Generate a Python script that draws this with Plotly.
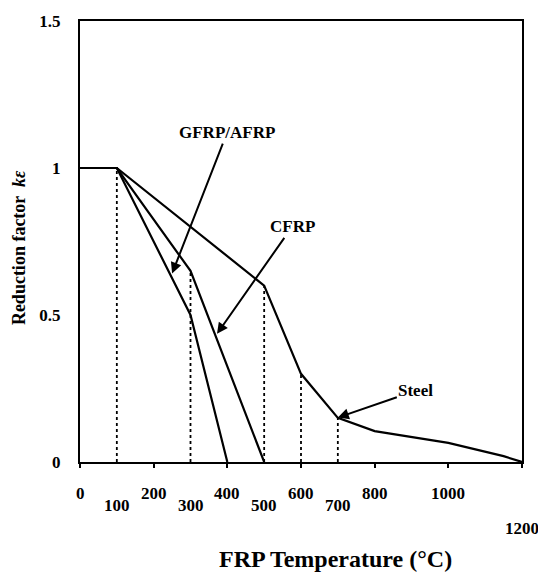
import plotly.graph_objects as go

# ---- data ----
steel_T = [0, 100, 500, 600, 700, 800, 1000, 1150, 1200]
steel_k = [1.0, 1.0, 0.60, 0.30, 0.15, 0.105, 0.065, 0.02, 0.0]

cfrp_T = [0, 100, 300, 500]
cfrp_k = [1.0, 1.0, 0.65, 0.0]

gfrp_T = [0, 100, 300, 400]
gfrp_k = [1.0, 1.0, 0.50, 0.0]

guide_T = [100, 300, 500, 600, 700]
guide_k = [1.0, 0.65, 0.60, 0.30, 0.15]

xtick_vals = [0, 100, 200, 300, 400, 500, 600, 700, 800, 1000, 1200]
xtick_text = ["0", "100", "200", "300", "400", "500", "600", "700", "800", "1000", "1200"]

# label annotations: (text, arrow tip T, arrow tip k)
labels = [("GFRP/AFRP", 250, 0.641), ("CFRP", 372, 0.436), ("Steel", 700, 0.151)]

FONT = "Liberation Serif"
fig = go.Figure()

line_style = dict(color="black", width=2.2)
for T, k in [(steel_T, steel_k), (cfrp_T, cfrp_k), (gfrp_T, gfrp_k)]:
    fig.add_trace(go.Scatter(x=T, y=k, mode="lines", line=line_style,
                             showlegend=False, hoverinfo="skip"))

gx, gy = [], []
for t, k in zip(guide_T, guide_k):
    gx += [t, t, None]
    gy += [0, k, None]
fig.add_trace(go.Scatter(x=gx, y=gy, mode="lines",
                         line=dict(color="black", width=1.8, dash="dot"),
                         showlegend=False, hoverinfo="skip"))

annotations = []
# x tick labels (staggered)
for v, t in zip(xtick_vals, xtick_text):
    if v == 1200:
        shift = -66
    elif v in (100, 300, 500, 700):
        shift = -43
    else:
        shift = -31
    annotations.append(dict(x=v, y=0, xref="x", yref="paper", text=f"<b>{t}</b>",
                            showarrow=False, yshift=shift, yanchor="middle",
                            xanchor="center", font=dict(family=FONT, size=17, color="black")))

offsets = {"GFRP/AFRP": (55, -141), "CFRP": (75, -107), "Steel": (78, -27)}
for txt, T, k in labels:
    ax, ay = offsets[txt]
    annotations.append(dict(x=T, y=k, xref="x", yref="y", text=f"<b>{txt}</b>",
                            showarrow=True, ax=ax, ay=ay, arrowhead=2, arrowsize=1.1,
                            arrowwidth=2, arrowcolor="black",
                            font=dict(family=FONT, size=17, color="black")))

annotations.append(dict(x=0.579, y=-0.219, xref="paper", yref="paper",
                        text="<b>FRP Temperature (°C)</b>", showarrow=False,
                        xanchor="center", yanchor="middle",
                        font=dict(family=FONT, size=24, color="black")))
annotations.append(dict(x=-0.138, y=0.485, xref="paper", yref="paper",
                        text="<b>Reduction factor  <i>kε</i></b>", showarrow=False,
                        textangle=-90, xanchor="center", yanchor="middle",
                        font=dict(family=FONT, size=18, color="black")))

fig.update_layout(
    width=538, height=573,
    margin=dict(l=80, r=16, t=15, b=111),
    plot_bgcolor="white", paper_bgcolor="white",
    annotations=annotations,
    xaxis=dict(range=[0, 1200], showgrid=False, zeroline=False, showline=True,
               linecolor="black", linewidth=2, mirror=True, ticks="outside",
               tickcolor="black", ticklen=4, tickwidth=2, tick0=0, dtick=200,
               showticklabels=False),
    yaxis=dict(range=[0, 1.5], showgrid=False, zeroline=False, showline=True,
               linecolor="black", linewidth=2, mirror=True, ticks="",
               tickvals=[0, 0.5, 1, 1.5], ticktext=["<b>0</b>", "<b>0.5</b>", "<b>1</b>", "<b>1.5</b>"],
               ticklabelstandoff=14,
               tickfont=dict(family=FONT, size=17, color="black")),
)

fig.write_html("out.html")
